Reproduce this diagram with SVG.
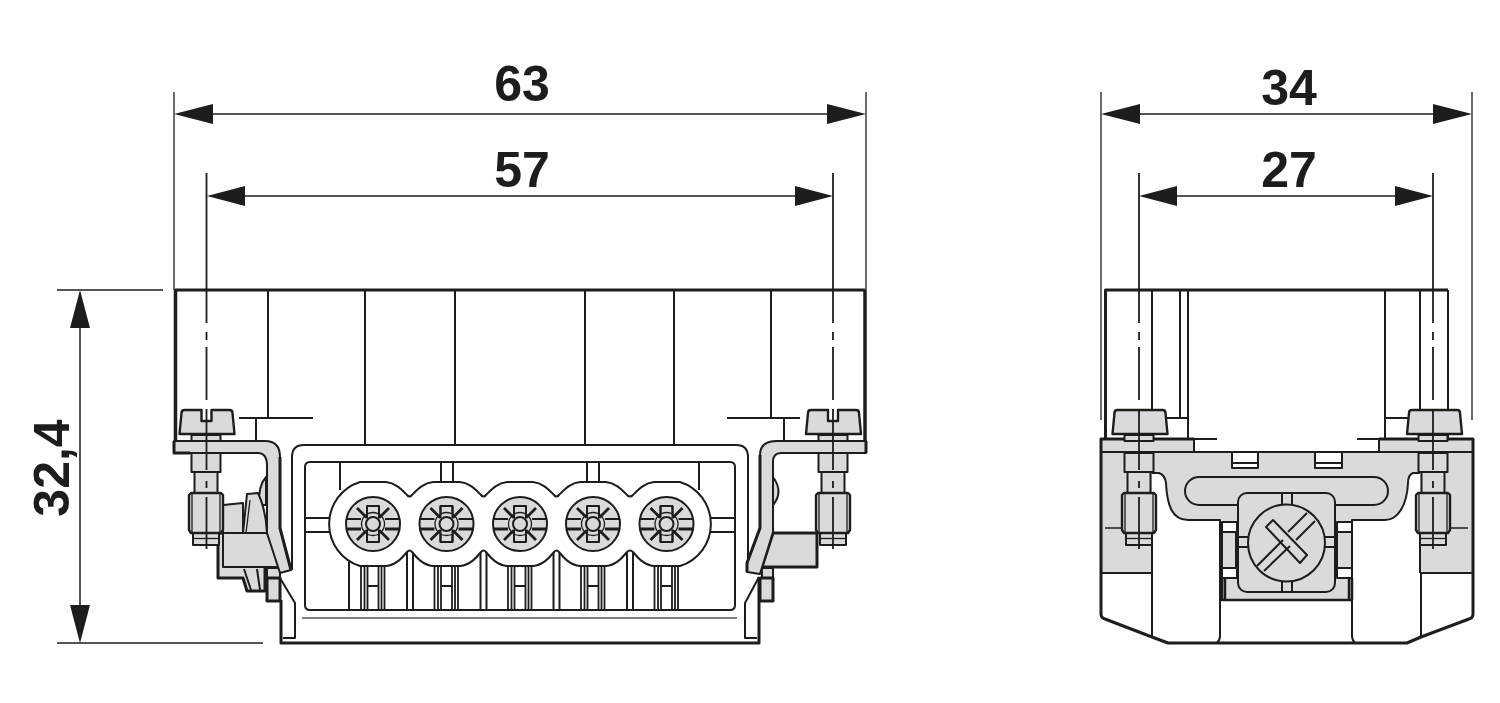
<svg xmlns="http://www.w3.org/2000/svg" xmlns:xlink="http://www.w3.org/1999/xlink" width="1500" height="703" viewBox="0 0 1500 703">
<style>
.l{fill:none;stroke:#1d1d1b;stroke-width:2;stroke-linejoin:round;stroke-linecap:butt}
.t{fill:none;stroke:#1d1d1b;stroke-width:3;stroke-linejoin:round}
.n{fill:none;stroke:#1d1d1b;stroke-width:1.3}
.g{fill:#d9dadb;stroke:#1d1d1b;stroke-width:2;stroke-linejoin:round}
.gt{fill:#d9dadb;stroke:#1d1d1b;stroke-width:3;stroke-linejoin:round}
.w{fill:#fff;stroke:#1d1d1b;stroke-width:2;stroke-linejoin:round}
.a{fill:#1d1d1b}
.x{font-family:"Liberation Sans",Arial,sans-serif;font-weight:700;font-size:50px;fill:#1d1d1b;text-anchor:middle}
</style>
<defs>
<g id="screw">
<path class="g" d="M-14.500,435V441H14.500V435Z"/>
<path class="g" d="M-14.500,453V472H14.500V453Z"/>
<path class="g" d="M-11.500,472V493H11.500V472Z"/>
<path class="g" d="M-13,533V545H13V533Z"/>
<path class="n" d="M-13,538.500H13"/>
<path class="g" style="stroke-width:2.400" d="M-17,495L-15,493H15L17,495V530L15,533H-15L-17,530Z"/>
<path class="n" d="M-14,493V533M14,493V533"/>
</g>
<path id="slotted" class="g" style="stroke-width:2.400" d="M-27,434L-25,413Q-25,410 -22,410H-5V421H5V410H23Q26,410 26,413L28,434Z"/>
<path id="plain" class="g" style="stroke-width:2.400" d="M-27,434L-25,413Q-25,410 -22,410H23Q26,410 26,413L28,434Z"/>
<path id="axis" class="l" style="stroke-width:1.800" d="M0,173V323M0,332V340M0,347V400M0,409V470M0,481V488M0,497V549"/>
<g id="head">
<circle class="g" r="27"/>
<path class="t" style="stroke-width:2.800" d="M-16,-16L-5,-5M16,-16L5,-5M-16,16L-5,5M16,16L5,5"/>
<path class="g" d="M-6,-18H6V18H-6Z"/>
<path class="g" d="M-18,-5.500H18V5.500H-18Z" style="stroke:none"/>
<path class="l" d="M-26.500,-5H-12M12,-5H26.500M-6,-18V-10M6,-18V-10M-6,18V10M6,18V10M-6,-18H6M-6,18H6"/>
<path class="l" style="stroke-width:2.800" d="M-26.500,5H-12M12,5H26.500"/>
<circle class="g" r="7"/>
<circle class="n" r="11.500"/>
</g>
<g id="stem">
<path class="l" style="stroke-width:1.800" d="M-12,566V610M-8.500,566V610M-5.500,586V610M5.500,586V610M8.500,566V610M11.500,566V610M-5.500,566V586H5.500V566"/>
</g>
</defs>
<g id="dimensions">
<path class="n" d="M174,92V290M866,92V290M1101,92V420M1472,92V420M57,290H163M57,643H263"/>
<path class="l" style="stroke-width:1.500" d="M210,114H830M210,196H800M1135,114H1440M1170,196H1400M80,320V610"/>
<path class="a" d="M174,114L213,104V124ZM866,114L827,104V124ZM207,196L245,186V206ZM833,196L795,186V206ZM1101,114L1140,104V124ZM1472,114L1433,104V124ZM1139,196L1177,186V206ZM1433,196L1395,186V206ZM80,290L70,328H90ZM80,643L70,605H90Z"/>
<text class="x" x="522" y="101">63</text>
<text class="x" x="522" y="187">57</text>
<text class="x" x="1289" y="105">34</text>
<text class="x" x="1289" y="187">27</text>
<text class="x" transform="translate(69,468) rotate(-90)">32,4</text>
</g>
<g id="front-view">
<path class="t" d="M175.500,453V290H865"/>
<path class="t" style="stroke-width:3.500" d="M865,290V453"/>
<path class="t" style="stroke-width:3.500" d="M175.500,290V453"/>
<path class="l" d="M268,290V418M365,290V445M455,290V445M585,290V445M674,290V445M771,290V418M239,418H313M727,418H800M256,418V441M784,418V441"/>
<path class="g" d="M259,505Q258,486 266,477V505Z"/>
<path class="gt" d="M218,533V578H243L247,591H265V568L267,533Z"/>
<path class="g" d="M223,505L243,503V533H223Z"/>
<path class="g" d="M243,533L247,494L258,493Q266,510 267,533Z"/>
<path class="n" d="M246,533L250,500"/>
<path class="g" d="M267,568H280V578H267Z"/>
<path class="gt" d="M267,578H280V601H267Z"/>
<path class="l" d="M244,569L251,590M257,569L260,590"/>
<path class="g" d="M223,533H267L280,567H223Z"/>
<path class="g" d="M773,477Q784,492 773,505Z"/>
<path class="gt" d="M773,533H817V567H762Z"/>
<path class="g" d="M762,568H773V578H762Z"/>
<path class="gt" d="M760,578H773V601H760Z"/>
<path class="w" d="M292,570V457Q292,445 304,445H736Q748,445 748,457V572"/>
<path class="l" d="M305,605V467Q305,462 310,462H730Q735,462 735,467V605Q735,610 730,610H310Q305,610 305,605Z"/>
<path class="l" d="M340,462V490M441,462V482M453,462V482M587,462V482M599,462V482M699,462V490M305,518H332M305,532H332M710,518H735M710,532H735"/>
<use xlink:href="#stem" href="#stem" x="373"/>
<use xlink:href="#stem" href="#stem" x="446.500"/>
<use xlink:href="#stem" href="#stem" x="520"/>
<use xlink:href="#stem" href="#stem" x="593"/>
<use xlink:href="#stem" href="#stem" x="666.500"/>
<path class="l" d="M349,562V610M407,550V610M413,550V610M480.500,550V610M486.500,550V610M553.500,550V610M559.500,550V610M627,550V610M633,550V610"/>
<path class="w" d="M360,482H386C396,483 402,490 407,495Q409.500,498 412,495C417,490 423,483 433,482H460C470,483 476,490 481,495Q483.500,498 486,495C491,490 497,483 507,482H533C543,483 549,490 554,495Q556.500,498 559,495C564,490 570,483 580,482H606C616,483 622,490 627,495Q630,498 633,495C638,490 644,483 654,482H680A44,44 0 0 1 680,566H654C644,565 638,558 633,552Q630,549 627,552C622,558 616,565 606,566H580C570,565 564,558 559,552Q556.500,549 554,552C549,558 543,565 533,566H507C497,565 491,558 486,552Q483.500,549 481,552C476,558 470,565 460,566H433C423,565 417,558 412,552Q409.500,549 407,552C402,558 396,565 386,566H360A44,44 0 0 1 360,482Z"/>
<use xlink:href="#head" href="#head" x="373" y="524"/>
<use xlink:href="#head" href="#head" x="446.500" y="524"/>
<use xlink:href="#head" href="#head" x="520" y="524"/>
<use xlink:href="#head" href="#head" x="593" y="524"/>
<use xlink:href="#head" href="#head" x="666.500" y="524"/>
<path class="n" style="stroke:#555" d="M302,618H737"/>
<path class="t" style="stroke-width:3" d="M281,600V643H759V577"/>
<path class="l" d="M280,578L295,603V638H283M759,577L745,603V638H757"/>
<path class="g" d="M174,441H265Q280,441 280,457V528L291,570L280,573L267,533V466Q267,453 258,453H174Z"/>
<path class="g" d="M866,441H777Q760,441 760,455V528L747,563V572L760,574L773,532V462Q773,453 781,453H866Z"/>
<path class="t" d="M174,441V453H190M280,457V528L291,570M866,441V453M760,455V528L747,563V572"/>
<use xlink:href="#screw" href="#screw" x="206"/>
<use xlink:href="#screw" href="#screw" x="833"/>
<use xlink:href="#slotted" href="#slotted" x="206.500"/>
<use xlink:href="#slotted" href="#slotted" x="833"/>
<use xlink:href="#axis" href="#axis" x="206.500"/>
<use xlink:href="#axis" href="#axis" x="833"/>
</g>
<g id="side-view">
<path class="t" d="M1105.500,439V290H1448"/>
<path class="l" d="M1448,290V439M1152,290V410M1180,290V418M1188,290V439M1385,290V439M1420,290V410M1167,418H1188M1385,418H1408"/>
<path class="g" style="stroke:none" d="M1101,439H1194V452H1379V439H1473V573H1420V473H1413Q1408,475 1408,483C1407,505 1398,520 1385,520H1352V600H1222V520H1188C1172,520 1167,505 1166,483Q1165,475 1159,473H1152V573H1101Z"/>
<path class="t" d="M1194,439H1101V614Q1101,618 1105,619L1152,637L1168,643H1407L1421,637L1469,619Q1473,618 1473,614V439H1379"/>
<path class="l" d="M1194,439H1217M1357,439H1379"/>
<path class="l" d="M1194,439V452H1379V439M1101,452H1194M1379,452H1473"/>
<path class="l" d="M1152,473H1159Q1165,475 1166,483C1167,505 1172,520 1188,520H1220V636Q1220,640 1217,643M1420,473H1413Q1408,475 1408,483C1407,505 1398,520 1385,520H1352V636Q1352,640 1355,643"/>
<path class="l" d="M1102,573H1152V637M1420,573H1472M1421,573V637M1152,545V573M1420,545V573"/>
<path class="n" d="M1105,528H1122M1451,528H1468"/>
<path class="w" d="M1232,453V468H1258V453M1232,463H1258M1315,453V468H1342V453M1315,463H1342"/>
<path class="l" d="M1199,477H1374A14,14 0 0 1 1374,505H1199A14,14 0 0 1 1199,477Z"/>
<path class="w" d="M1222,522H1237V532H1222ZM1222,568H1237V578H1222ZM1337,522H1352V532H1337ZM1337,568H1352V578H1337Z"/>
<path class="g" d="M1222,532H1236V568H1222ZM1337,532H1352V568H1337Z"/>
<path class="t" style="stroke-width:2.500" d="M1222,578V600H1352V578M1225,578V600M1349,578V600"/>
<rect class="g" x="1238" y="493" width="97" height="99" rx="9"/>
<path class="l" d="M1282,493V504M1292,493V504M1282,582V592M1292,582V592M1238,537H1248M1238,547H1248M1325,537H1335M1325,547H1335"/>
<circle class="g" cx="1286.500" cy="543" r="38.500"/>
<path class="l" d="M1257,566L1283,540M1264,571L1290,546M1307,513L1288,532M1315,521L1296,540"/>
<path class="l" d="M1266,527L1273,520L1307,555L1300,563Z"/>
<use xlink:href="#screw" href="#screw" x="1139"/>
<use xlink:href="#screw" href="#screw" x="1433"/>
<use xlink:href="#plain" href="#plain" x="1139.500"/>
<use xlink:href="#plain" href="#plain" x="1434"/>
<use xlink:href="#axis" href="#axis" x="1139"/>
<use xlink:href="#axis" href="#axis" x="1433"/>
</g>
</svg>
